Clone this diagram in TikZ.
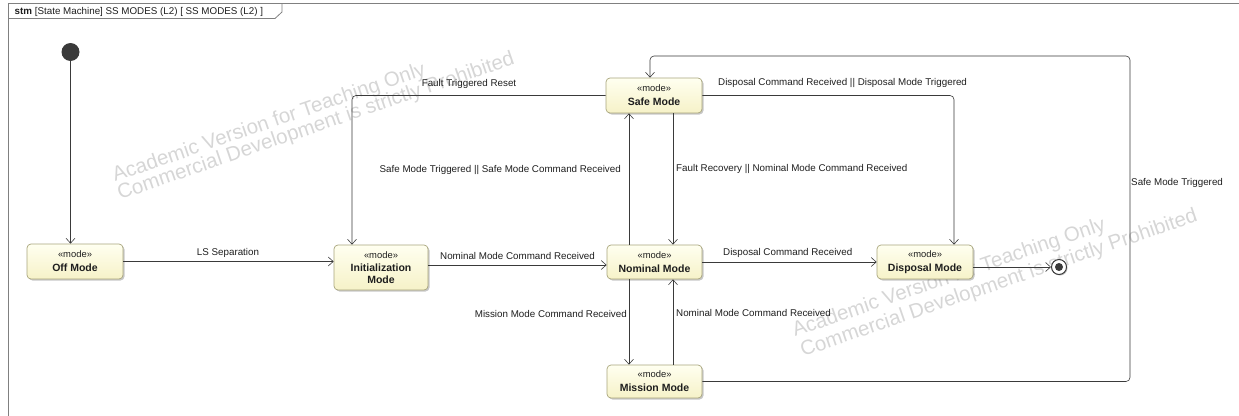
\documentclass[tikz,border=0pt]{standalone}
\usepackage{fontspec}
\setmainfont{Liberation Sans}
\usetikzlibrary{arrows.meta,shadows}

\definecolor{edgec}{HTML}{3A3A3A}
\definecolor{framec}{HTML}{808080}
\definecolor{boxline}{HTML}{A8A57C}
\definecolor{boxtop}{HTML}{FFFFF0}
\definecolor{boxbot}{HTML}{F6F2C8}
\definecolor{labelc}{HTML}{1E1E1E}
\definecolor{dotc}{HTML}{3A3A3A}
\definecolor{wmgray}{HTML}{D6D6D6}

\newcommand{\stereofont}{\fontsize{9.4}{11}\selectfont\mdseries}
\newcommand{\modename}{\fontsize{10.5}{12}\selectfont\bfseries}

\begin{document}
\begin{tikzpicture}[x=1pt,y=-1pt,
  modebox/.style={rectangle, rounded corners=4pt, draw=boxline, line width=0.7pt,
    top color=boxtop, bottom color=boxbot, align=center, inner sep=0pt,
    font=\modename, text=labelc,
    drop shadow={shadow xshift=1.5pt, shadow yshift=-1.5pt, fill=black, opacity=0.22}},
  tr/.style={draw=edgec, line width=0.6pt, rounded corners=4pt,
    -{Straight Barb[length=5pt,width=9pt]}},
  lbl/.style={font=\fontsize{9.8}{11}\selectfont, text=labelc, inner sep=0pt},
  wm/.style={font=\fontsize{20.5}{22}\selectfont, text=wmgray, rotate=19,
    anchor=base west, inner sep=0pt}
]
\useasboundingbox (0,0) rectangle (1239,415);

% watermark lines (behind everything)
\node[wm] (wmA1) at (115,182) {Academic Version for Teaching Only};
\node[wm] (wmA2) at (120,200) {Commercial Development is strictly Prohibited};
\node[wm] (wmB1) at (795,337) {Academic Version for Teaching Only};
\node[wm] (wmB2) at (803,357) {Commercial Development is strictly Prohibited};

% diagram frame and name tab
\draw[framec, line width=0.8pt] (8,430) -- (8,3.5) -- (1250,3.5);
\draw[framec, line width=0.8pt] (8,18.5) -- (275,18.5) -- (282,12) -- (282,3.5);
\node[lbl, anchor=base west] (title) at (14.5,14.5)
  {\textbf{stm} [State Machine] SS MODES (L2) [ SS MODES (L2) ]};

% states
\node[modebox, minimum width=96pt, minimum height=35pt] (off) at (75,261.5)
  {{\stereofont «mode»}\\[2pt]Off Mode};
\node[modebox, minimum width=94pt, minimum height=45pt] (init) at (381,267.5)
  {{\stereofont «mode»}\\[1.5pt]Initialization\\Mode};
\node[modebox, minimum width=95pt, minimum height=34pt] (nom) at (654.5,262)
  {{\stereofont «mode»}\\[2pt]Nominal Mode};
\node[modebox, minimum width=96pt, minimum height=35pt] (safe) at (654,95.5)
  {{\stereofont «mode»}\\[2pt]Safe Mode};
\node[modebox, minimum width=95pt, minimum height=33pt] (mis) at (654.5,381.5)
  {{\stereofont «mode»}\\[2pt]Mission Mode};
\node[modebox, minimum width=96pt, minimum height=34pt] (disp) at (925,262)
  {{\stereofont «mode»}\\[2pt]Disposal Mode};

% pseudo states
\node[circle, fill=dotc, minimum size=18pt, inner sep=0pt] (start) at (70.5,52) {};
\node[circle, draw=edgec, fill=white, line width=1pt, minimum size=15pt, inner sep=0pt,
  drop shadow={shadow xshift=1pt, shadow yshift=-1pt, fill=black, opacity=0.25}] (fin) at (1059,267) {};
\node[circle, fill=dotc, minimum size=8pt, inner sep=0pt] (findot) at (fin) {};

% routing lanes
\coordinate (laneUp)   at (629,0);
\coordinate (laneDown) at (673,0);
\coordinate (laneInit) at (352,0);
\coordinate (laneDisp) at (954,0);
\coordinate (laneSafe) at (650,0);
\coordinate (rowInit)  at (0,265);
\coordinate (loopTR)   at (1130,56);

% transitions
\draw[tr] (start) -- (start |- off.north);
\draw[tr] (off.east) -- (init.west |- off.east);
\draw[tr] (init.east |- rowInit) -- (nom.west |- rowInit);
\draw[tr] (nom.east) -- (disp.west |- nom.east);
\draw[tr] (disp.east |- fin) -- (fin.west);
\draw[tr] (nom.north -| laneUp) -- (safe.south -| laneUp);
\draw[tr] (safe.south -| laneDown) -- (nom.north -| laneDown);
\draw[tr] (nom.south -| laneUp) -- (mis.north -| laneUp);
\draw[tr] (mis.north -| laneDown) -- (nom.south -| laneDown);
\draw[tr] (safe.west) -| (init.north -| laneInit);
\draw[tr] (safe.east) -| (disp.north -| laneDisp);
\draw[tr] (mis.east) -| (loopTR) -| (safe.north -| laneSafe);

% transition labels
\node[lbl] (lLS) at (228,253) {LS Separation};
\node[lbl, anchor=west] (lInitNom) at (440,256) {Nominal Mode Command Received};
\node[lbl, anchor=west] (lNomDisp) at (723,253) {Disposal Command Received};
\node[lbl] (lReset) at (469,84) {Fault Triggered Reset};
\node[lbl, anchor=west] (lSafeDisp) at (718,83) {Disposal Command Received || Disposal Mode Triggered};
\node[lbl, anchor=east] (lNomSafe) at (621,170) {Safe Mode Triggered || Safe Mode Command Received};
\node[lbl, anchor=west] (lSafeNom) at (676,169) {Fault Recovery || Nominal Mode Command Received};
\node[lbl, anchor=east] (lNomMis) at (627,314) {Mission Mode Command Received};
\node[lbl, anchor=west] (lMisNom) at (676,313) {Nominal Mode Command Received};
\node[lbl, anchor=west] (lMisSafe) at (1131,183) {Safe Mode Triggered};
\end{tikzpicture}
\end{document}
